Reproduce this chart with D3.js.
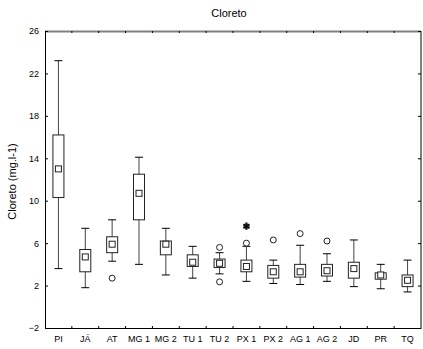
<!DOCTYPE html>
<html>
<head>
<meta charset="utf-8">
<script src="https://cdn.jsdelivr.net/npm/d3@7"></script>
<style>
  body { margin: 0; background: #fff; }
  text { font-family: "Liberation Sans", Arial, sans-serif; }
</style>
</head>
<body>
<div id="chart"></div>
<script>
// sites along the x axis
const sites = ["PI", "JÁ", "AT", "MG 1", "MG 2", "TU 1", "TU 2", "PX 1", "PX 2", "AG 1", "AG 2", "JD", "PR", "TQ"];
// box: mean, box low/high, whisker low/high (mg.l-1)
const means    = [13.0, 4.7, 5.9, 10.7, 5.9, 4.2, 4.1, 3.8, 3.3, 3.3, 3.4, 3.6, 3.0, 2.5];
const boxLow   = [10.3, 3.3, 5.1, 8.2, 4.9, 3.8, 3.7, 3.3, 2.7, 2.8, 2.9, 2.7, 2.6, 1.9];
const boxHigh  = [16.2, 5.4, 6.6, 12.5, 6.2, 4.9, 4.5, 4.4, 3.9, 4.0, 4.0, 4.2, 3.2, 3.0];
const whiskLow = [3.6, 1.8, 4.3, 4.0, 3.0, 2.7, 3.1, 2.4, 2.2, 2.1, 2.4, 1.9, 1.7, 1.4];
const whiskHigh= [23.2, 7.4, 8.2, 14.1, 7.4, 5.7, 5.1, 5.7, 4.4, 5.8, 5.0, 6.3, 4.0, 4.4];
// outliers (circles) and extremes (asterisks)
const outliers = [
  { site: "AT", value: 2.7 },
  { site: "TU 2", value: 5.6 },
  { site: "TU 2", value: 2.35 },
  { site: "PX 1", value: 6.0 },
  { site: "PX 2", value: 6.3 },
  { site: "AG 1", value: 6.9 },
  { site: "AG 2", value: 6.2 }
];
const extremes = [{ site: "PX 1", value: 7.6 }];
const yTicks = [-2, 2, 6, 10, 14, 18, 22, 26];

const W = 423, H = 349;
const margin = { top: 31, right: 2, bottom: 21, left: 45 };
const width = W - margin.left - margin.right;
const height = H - margin.top - margin.bottom;

const svg = d3.select("#chart").append("svg")
  .attr("width", W)
  .attr("height", H);

svg.append("text")
  .attr("x", 229).attr("y", 17)
  .attr("text-anchor", "middle")
  .style("font-size", "11px")
  .text("Cloreto");

svg.append("text")
  .attr("transform", "translate(16," + (margin.top + height / 2 + 2) + ") rotate(-90)")
  .attr("text-anchor", "middle")
  .style("font-size", "11px")
  .text("Cloreto (mg.l-1)");

const g = svg.append("g")
  .attr("transform", `translate(${margin.left},${margin.top})`);

const x = d3.scaleBand().domain(sites).range([0, width]);
const y = d3.scaleLinear().domain([-2, 26]).range([height, 0]);

// frame: left and bottom black, top and right grey
g.append("line").attr("x1", 0).attr("x2", width).attr("y1", 0.5).attr("y2", 0.5)
  .attr("stroke", "#808080").attr("stroke-width", 2);
g.append("line").attr("x1", width).attr("x2", width).attr("y1", 0).attr("y2", height)
  .attr("stroke", "#808080").attr("stroke-width", 2);

// axes with inward ticks
const yAxis = g.append("g").call(d3.axisLeft(y).tickValues(yTicks).tickSizeInner(-3).tickSizeOuter(0).tickPadding(6));
yAxis.selectAll("text").style("font-size", "9px").style("font-family", "'Liberation Sans', Arial, sans-serif");
const yAxisR = g.append("g").attr("transform", `translate(${width},0)`)
  .call(d3.axisRight(y).tickValues(yTicks).tickSizeInner(-3).tickSizeOuter(0).tickFormat(""));
yAxisR.select(".domain").remove();

const boundaries = sites.map(s => x(s)).slice(1);
const xAxis = g.append("g").attr("transform", `translate(0,${height})`)
  .call(d3.axisBottom(x).tickSize(0).tickPadding(8));
xAxis.selectAll("text").style("font-size", "9px").style("font-family", "'Liberation Sans', Arial, sans-serif");
g.selectAll(".btick").data(boundaries).join("line")
  .attr("x1", d => d).attr("x2", d => d)
  .attr("y1", height).attr("y2", height - 2)
  .attr("stroke", "#000");
g.selectAll(".ttick").data(boundaries).join("line")
  .attr("x1", d => d).attr("x2", d => d)
  .attr("y1", 0).attr("y2", 2)
  .attr("stroke", "#000");

const cx = s => x(s) + x.bandwidth() / 2;
const boxW = 11, capW = 8, meanW = 6;

const box = g.selectAll(".box").data(sites).join("g").attr("class", "box");

// whiskers
box.append("line")
  .attr("x1", d => cx(d)).attr("x2", d => cx(d))
  .attr("y1", (d, i) => y(whiskLow[i])).attr("y2", (d, i) => y(whiskHigh[i]))
  .attr("stroke", "#444");
box.append("line")
  .attr("x1", d => cx(d) - capW / 2).attr("x2", d => cx(d) + capW / 2)
  .attr("y1", (d, i) => y(whiskLow[i])).attr("y2", (d, i) => y(whiskLow[i]))
  .attr("stroke", "#000");
box.append("line")
  .attr("x1", d => cx(d) - capW / 2).attr("x2", d => cx(d) + capW / 2)
  .attr("y1", (d, i) => y(whiskHigh[i])).attr("y2", (d, i) => y(whiskHigh[i]))
  .attr("stroke", "#000");

// boxes
box.append("rect")
  .attr("x", d => cx(d) - boxW / 2)
  .attr("y", (d, i) => y(boxHigh[i]))
  .attr("width", boxW)
  .attr("height", (d, i) => y(boxLow[i]) - y(boxHigh[i]))
  .attr("fill", "#fff").attr("stroke", "#222");

// mean squares
box.append("rect")
  .attr("x", d => cx(d) - meanW / 2)
  .attr("y", (d, i) => y(means[i]) - meanW / 2)
  .attr("width", meanW).attr("height", meanW)
  .attr("fill", "#fff").attr("stroke", "#222");

// outliers
g.selectAll(".out").data(outliers).join("circle")
  .attr("cx", d => cx(d.site)).attr("cy", d => y(d.value))
  .attr("r", 3)
  .attr("fill", "#fff").attr("stroke", "#222");

// extremes
g.selectAll(".ext").data(extremes).join("path")
  .attr("transform", d => `translate(${cx(d.site)},${y(d.value)})`)
  .attr("d", d3.symbol().type(d3.symbolAsterisk).size(36))
  .attr("fill", "none").attr("stroke", "#111").attr("stroke-width", 2.2);
</script>
</body>
</html>
